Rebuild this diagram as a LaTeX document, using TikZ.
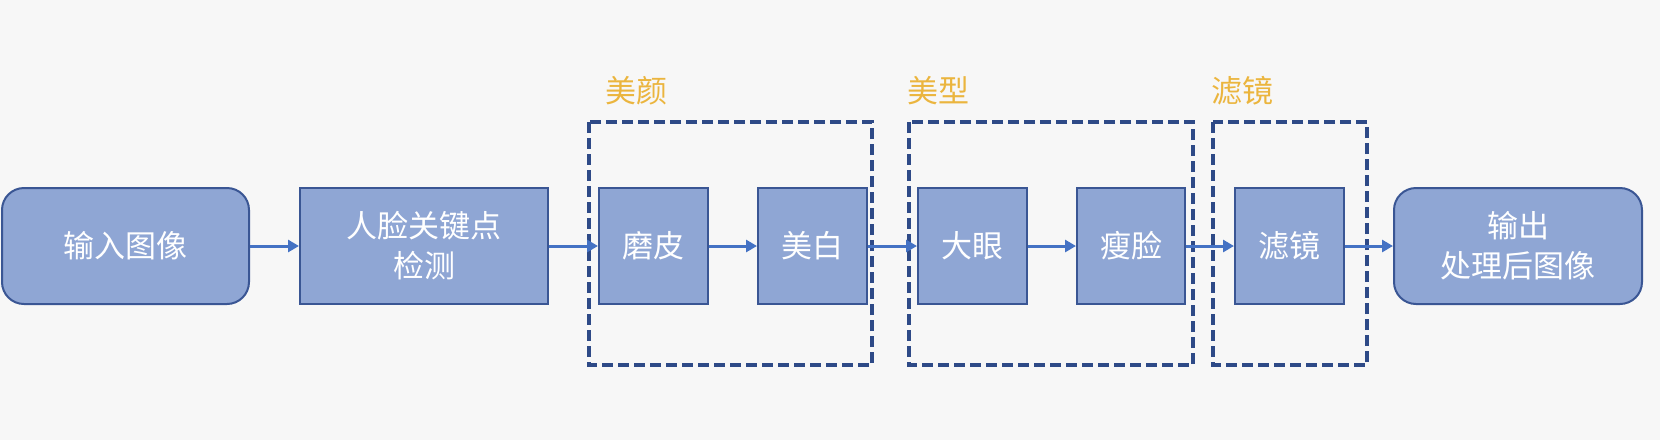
\documentclass[tikz,border=0pt]{standalone}
\usepackage{fontspec}
\setmainfont{Noto Sans CJK SC}
\usetikzlibrary{arrows.meta}
\definecolor{bg}{HTML}{F7F7F7}
\definecolor{boxfill}{HTML}{8FA6D4}
\definecolor{boxline}{HTML}{3A5694}
\definecolor{dashline}{HTML}{2E4A87}
\definecolor{arrowcol}{HTML}{4472C4}
\definecolor{labelcol}{HTML}{EBB53E}
\begin{document}
\begin{tikzpicture}[x=1pt,y=-1pt,
  procbox/.style={draw=boxline, line width=2pt, fill=boxfill, text=white,
    font=\fontsize{31}{40}\selectfont, align=center, inner sep=0pt, anchor=north west},
  groupbox/.style={draw=dashline, line width=3.5pt, dash pattern=on 11pt off 5pt},
  grouplabel/.style={text=labelcol, font=\fontsize{31}{32}\selectfont, anchor=west, inner sep=0pt},
  flow/.style={draw=arrowcol, line width=3pt, -{Triangle[length=11pt,width=12pt]}}
]
\useasboundingbox[fill=bg] (0,0) rectangle (1660,440);

% group dashed boxes
\draw[groupbox] (589,122) rectangle (872,365);
\draw[groupbox] (909,122) rectangle (1193,365);
\draw[groupbox] (1213,122) rectangle (1367,365);

\node[grouplabel] (l1) at (605,91) {美颜};
\node[grouplabel] (l2) at (907,91) {美型};
\node[grouplabel] (l3) at (1211,91) {滤镜};

% process boxes
\node[procbox, rounded corners=22pt, minimum width=247pt, minimum height=116pt] (in) at (1,187) {输入图像};
\node[procbox, minimum width=248pt, minimum height=116pt] (kp) at (299,187) {人脸关键点\\检测};
\node[procbox, minimum width=109pt, minimum height=116pt] (mp) at (598,187) {磨皮};
\node[procbox, minimum width=109pt, minimum height=116pt] (mb) at (757,187) {美白};
\node[procbox, minimum width=109pt, minimum height=116pt] (dy) at (917,187) {大眼};
\node[procbox, minimum width=108pt, minimum height=116pt] (sl) at (1076,187) {瘦脸};
\node[procbox, minimum width=109pt, minimum height=116pt] (lj) at (1234,187) {滤镜};
\node[procbox, rounded corners=22pt, minimum width=248pt, minimum height=116pt] (out) at (1393,187) {输出\\处理后图像};

% connectors
\draw[flow] (in.east) -- (kp.west);
\draw[flow] (kp.east) -- (mp.west);
\draw[flow] (mp.east) -- (mb.west);
\draw[flow] (mb.east) -- (dy.west);
\draw[flow] (dy.east) -- (sl.west);
\draw[flow] (sl.east) -- (lj.west);
\draw[flow] (lj.east) -- (out.west);
\end{tikzpicture}
\end{document}
